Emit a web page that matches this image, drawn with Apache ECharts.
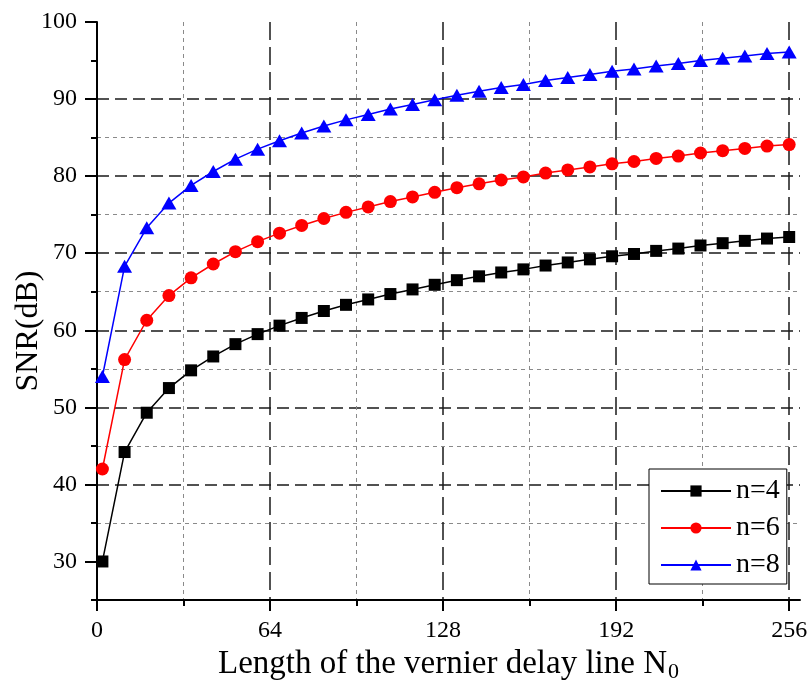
<!DOCTYPE html>
<html><head><meta charset="utf-8">
<script src="https://cdn.jsdelivr.net/npm/echarts@6/dist/echarts.min.js"></script>
<style>html,body{margin:0;padding:0;background:#fff}#c{width:812px;height:685px}</style>
</head><body><div id="c"></div>
<script>
// Vernier delay line length N0 (x values)
const xValues = [2, 10.2, 18.4, 26.6, 34.8, 43, 51.2, 59.4, 67.5, 75.7, 83.9, 92.1, 100.3, 108.5, 116.7, 124.9,
  133.1, 141.3, 149.5, 157.7, 165.9, 174.1, 182.3, 190.5, 198.6, 206.8, 215, 223.2, 231.4, 239.6, 247.8, 256];
// SNR (dB)
const snrN4 = [30.0, 44.2, 49.3, 52.5, 54.8, 56.6, 58.2, 59.5, 60.6, 61.6, 62.5, 63.3, 64.0, 64.7, 65.3, 65.9,
  66.5, 67.0, 67.5, 67.9, 68.4, 68.8, 69.2, 69.6, 69.9, 70.3, 70.6, 71.0, 71.3, 71.6, 71.9, 72.1];
const snrN6 = [42.0, 56.2, 61.3, 64.5, 66.8, 68.6, 70.2, 71.5, 72.6, 73.6, 74.5, 75.3, 76.0, 76.7, 77.3, 77.9,
  78.5, 79.0, 79.5, 79.9, 80.4, 80.8, 81.2, 81.6, 81.9, 82.3, 82.6, 83.0, 83.3, 83.6, 83.9, 84.1];
const snrN8 = [54.0, 68.3, 73.3, 76.5, 78.8, 80.6, 82.2, 83.5, 84.6, 85.6, 86.5, 87.3, 88.0, 88.7, 89.3, 89.9,
  90.5, 91.0, 91.5, 91.9, 92.4, 92.8, 93.2, 93.6, 93.9, 94.3, 94.6, 95.0, 95.3, 95.6, 95.9, 96.1];
const seriesNames = ['n=4', 'n=6', 'n=8'];
const xMajorTicks = [0, 64, 128, 192, 256];
const xMinorTicks = [32, 96, 160, 224];
const yMajorTicks = [30, 40, 50, 60, 70, 80, 90, 100];
const yMinorTicks = [25, 35, 45, 55, 65, 75, 85, 95];

const FONT = 'Liberation Serif';
const chart = echarts.init(document.getElementById('c'), null, {renderer: 'canvas'});

const toPairs = (ys) => xValues.map((x, i) => [x, ys[i]]);

const option = {
  animation: false,
  backgroundColor: '#fff',
  grid: {left: 97, top: 22, width: 703, height: 578, containLabel: false, outerBoundsMode: 'none'},
  xAxis: [
    {
      type: 'value', min: 0, max: 260, position: 'bottom',
      axisLine: {show: false},
      axisTick: {show: true, inside: false, length: 6, customValues: xMinorTicks, lineStyle: {color: '#000', width: 2}},
      axisLabel: {show: false},
      splitLine: {show: true, lineStyle: {color: '#8a8a8a', width: 1, type: [4, 4]}}
    },
    {
      type: 'value', min: 0, max: 260, position: 'bottom',
      axisLine: {show: true, onZero: false, lineStyle: {color: '#000', width: 2}},
      axisTick: {show: true, inside: false, length: 11, customValues: xMajorTicks, lineStyle: {color: '#000', width: 2}},
      axisLabel: {show: true, customValues: xMajorTicks, margin: 19, color: '#000', fontFamily: FONT, fontSize: 24},
      splitLine: {show: true, showMinLine: false, lineStyle: {color: '#1a1a1a', width: 1.5, type: [18, 7]}},
      name: '{a|Length of the vernier delay line N}{s|0}',
      nameLocation: 'middle', nameGap: 47, nameMoveOverlap: false,
      nameTextStyle: {
        color: '#000', fontFamily: FONT, fontSize: 33,
        rich: {
          a: {fontFamily: FONT, fontSize: 33, color: '#000', lineHeight: 34},
          s: {fontFamily: FONT, fontSize: 22, color: '#000', lineHeight: 34, padding: [16, 0, 0, 1]}
        }
      }
    }
  ],
  yAxis: [
    {
      type: 'value', min: 25, max: 100, position: 'left',
      axisLine: {show: true, onZero: false, lineStyle: {color: '#000', width: 2}},
      axisTick: {show: true, inside: false, length: 6, customValues: yMinorTicks, lineStyle: {color: '#000', width: 2}},
      axisLabel: {show: false},
      splitLine: {show: true, showMinLine: false, showMaxLine: false, lineStyle: {color: '#8a8a8a', width: 1, type: [4, 4]}}
    },
    {
      type: 'value', min: 25, max: 100, position: 'left',
      axisLine: {show: false},
      axisTick: {show: true, inside: false, length: 12, customValues: yMajorTicks, lineStyle: {color: '#000', width: 2}},
      axisLabel: {show: true, customValues: yMajorTicks, margin: 20, color: '#000', fontFamily: FONT, fontSize: 24},
      splitLine: {show: true, showMinLine: false, showMaxLine: false, lineStyle: {color: '#1a1a1a', width: 1.5, type: [12, 6]}},
      name: 'SNR(dB)', nameLocation: 'middle', nameGap: 52, nameMoveOverlap: false,
      nameTextStyle: {color: '#000', fontFamily: FONT, fontSize: 32, padding: [0, 40, 0, 0]}
    }
  ],
  legend: {
    orient: 'vertical', left: 649, top: 469,
    padding: [8, 7, 5, 11], itemGap: 9, itemWidth: 70, itemHeight: 14,
    borderColor: '#000', borderWidth: 1, backgroundColor: '#fff',
    textStyle: {fontFamily: FONT, fontSize: 28, color: '#000'},
    data: seriesNames
  },
  series: [
    {name: seriesNames[0], type: 'line', xAxisIndex: 1, yAxisIndex: 1, data: toPairs(snrN4),
     symbol: 'rect', symbolSize: 12, color: '#000', lineStyle: {width: 1.5, color: '#000'}, itemStyle: {color: '#000'}},
    {name: seriesNames[1], type: 'line', xAxisIndex: 1, yAxisIndex: 1, data: toPairs(snrN6),
     symbol: 'circle', symbolSize: 13, color: '#ff0000', lineStyle: {width: 1.5, color: '#ff0000'}, itemStyle: {color: '#ff0000'}},
    {name: seriesNames[2], type: 'line', xAxisIndex: 1, yAxisIndex: 1, data: toPairs(snrN8),
     symbol: 'triangle', symbolSize: [15, 13], color: '#0000ff', lineStyle: {width: 1.5, color: '#0000ff'}, itemStyle: {color: '#0000ff'}}
  ]
};
chart.setOption(option);
</script>
</body></html>
